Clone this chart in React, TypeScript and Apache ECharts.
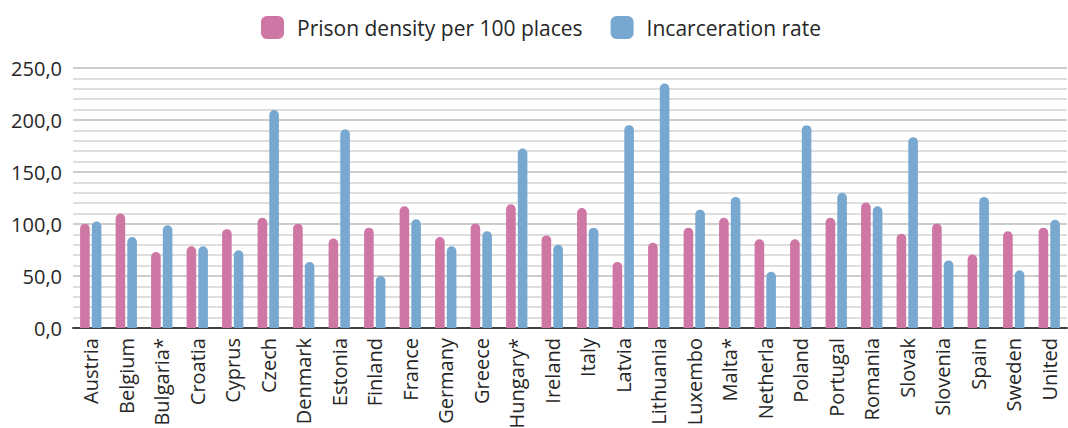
import React, { useEffect, useRef } from "react";
import * as echarts from "echarts";

const categories = [
  "Austria", "Belgium", "Bulgaria*", "Croatia", "Cyprus", "Czech", "Denmark", "Estonia",
  "Finland", "France", "Germany", "Greece", "Hungary*", "Ireland", "Italy", "Latvia",
  "Lithuania", "Luxembo", "Malta*", "Netherla", "Poland", "Portugal", "Romania", "Slovak",
  "Slovenia", "Spain", "Sweden", "United",
];

const prisonDensity = [
  100.3, 110.0, 73.0, 78.5, 95.0, 106.0, 100.3, 86.0,
  96.5, 117.0, 87.5, 100.4, 119.0, 89.0, 115.4, 63.5,
  82.0, 96.5, 106.0, 85.3, 85.3, 106.0, 120.6, 90.7,
  100.4, 70.6, 93.0, 96.5,
];

const incarcerationRate = [
  102.3, 87.5, 98.7, 78.5, 74.7, 209.5, 63.5, 191.0,
  50.0, 104.5, 78.5, 93.0, 172.5, 80.0, 96.5, 195.0,
  235.0, 113.8, 126.0, 54.0, 195.0, 130.0, 117.0, 183.5,
  65.0, 126.0, 55.5, 104.0,
];

const yTicks = { min: 0, max: 250, interval: 50 };

const PINK = "#CE76A4";
const BLUE = "#78A8CF";
const FONT = "Open Sans";

export default function App() {
  const ref = useRef<HTMLDivElement>(null);

  useEffect(() => {
    if (!ref.current) return;
    const chart = echarts.init(ref.current, undefined, { renderer: "svg" });
    chart.setOption({
      animation: false,
      textStyle: { fontFamily: FONT },
      legend: {
        top: 11,
        left: 256,
        itemWidth: 23,
        itemHeight: 23,
        itemGap: 28,
        icon: "roundRect",
        textStyle: { fontFamily: FONT, fontSize: 21, color: "#262626", padding: [0, 0, 0, 8] },
        data: ["Prison density per 100 places", "Incarceration rate"],
      },
      grid: {
        left: 73,
        right: 1,
        top: 68,
        bottom: 100,
        containLabel: false,
        outerBoundsMode: "none",
      },
      xAxis: {
        type: "category",
        data: categories,
        axisLine: { show: true, lineStyle: { color: "#404040", width: 2 } },
        axisTick: { show: false },
        axisLabel: {
          rotate: 90,
          interval: 0,
          margin: 10,
          fontFamily: FONT,
          fontSize: 20,
          color: "#262626",
        },
      },
      yAxis: {
        type: "value",
        min: yTicks.min,
        max: yTicks.max,
        interval: yTicks.interval,
        axisLine: { show: false },
        axisTick: { show: false },
        axisLabel: {
          margin: 11,
          fontFamily: FONT,
          fontSize: 20,
          color: "#262626",
          formatter: (v: number) => v.toFixed(1).replace(".", ","),
        },
        splitLine: { show: true, lineStyle: { color: "#bcbcbc", width: 1.6 } },
        minorTick: { show: false, splitNumber: 5 },
        minorSplitLine: { show: true, lineStyle: { color: "#d3d3d3", width: 1.6 } },
      },
      series: [
        {
          name: "Prison density per 100 places",
          type: "bar",
          data: prisonDensity,
          barWidth: 9.6,
          barGap: "22%",
          itemStyle: { color: PINK, borderRadius: [5, 5, 0, 0] },
        },
        {
          name: "Incarceration rate",
          type: "bar",
          data: incarcerationRate,
          barWidth: 9.6,
          barGap: "22%",
          itemStyle: { color: BLUE, borderRadius: [5, 5, 0, 0] },
        },
      ],
    });
    return () => chart.dispose();
  }, []);

  return (
    <div
      ref={ref}
      style={{ position: "fixed", left: 0, top: 0, width: 1068, height: 428, background: "#fff" }}
    />
  );
}
